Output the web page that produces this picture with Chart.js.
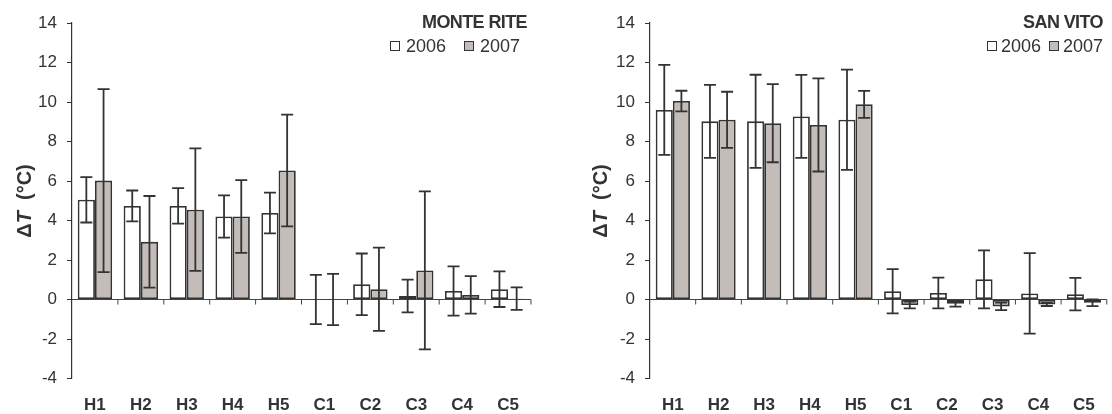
<!DOCTYPE html>
<html>
<head>
<meta charset="utf-8">
<script src="https://cdn.jsdelivr.net/npm/chart.js@4/dist/chart.umd.min.js"></script>
<style>
  body { margin: 0; background: #fff; font-family: 'Liberation Sans', Arial, sans-serif; color: #333; }
  #wrap { position: relative; width: 1112px; height: 414px; }
  .panel { position: absolute; top: 0; width: 556px; height: 414px; }
  .panel canvas { position: absolute; left: 0; top: 0; }
  .title { position: absolute; top: 12px; font-weight: bold; font-size: 18px; line-height: 20px; letter-spacing: -0.6px; white-space: nowrap; }
  .legend { position: absolute; top: 36px; font-size: 18px; line-height: 20px; white-space: nowrap; display: flex; align-items: center; }
  .legend .box { display: inline-block; width: 8px; height: 8px; border: 1.5px solid #333; margin-right: 6px; }
  .ytitle { position: absolute; width: 200px; height: 24px; line-height: 24px; text-align: center; font-weight: bold; font-size: 20px; transform: rotate(-90deg); white-space: nowrap; }
</style>
</head>
<body>
<div id="wrap">
  <div class="panel" style="left:0">
    <canvas id="chartMonte" width="556" height="414"></canvas>
    <div class="ytitle" style="left:-76px; top:189px">Δ<i>T</i>&nbsp; (°C)</div>
    <div class="title" style="right:29px">MONTE RITE</div>
    <div class="legend" style="right:36px">
      <span class="box" style="background:#fff"></span><span>2006</span>
      <span class="box" style="background:#c4bcb9; margin-left:18px"></span><span>2007</span>
    </div>
  </div>
  <div class="panel" style="left:556px">
    <canvas id="chartSanVito" width="556" height="414"></canvas>
    <div class="ytitle" style="left:-56px; top:189px">Δ<i>T</i>&nbsp; (°C)</div>
    <div class="title" style="right:9px">SAN VITO</div>
    <div class="legend" style="right:9px">
      <span class="box" style="background:#fff; margin-right:4px"></span><span>2006</span>
      <span class="box" style="background:#c4bcb9; margin-left:8px; margin-right:4px"></span><span>2007</span>
    </div>
  </div>
</div>
<script>
// categorie (siti)
var categories = ['H1', 'H2', 'H3', 'H4', 'H5', 'C1', 'C2', 'C3', 'C4', 'C5'];
var yTicks = { min: -4, max: 14, step: 2 };

// MONTE RITE
var monte2006 = [5.05, 4.74, 4.74, 4.20, 4.38, 0.00, 0.77, 0.18, 0.43, 0.52];
var monte2006Err = [1.15, 0.78, 0.90, 1.07, 1.03, 1.25, 1.56, 0.83, 1.25, 0.90];
var monte2007 = [6.02, 2.92, 4.55, 4.20, 6.53, 0.00, 0.52, 1.47, 0.23, 0.04];
var monte2007Err = [4.63, 2.32, 3.10, 1.84, 2.83, 1.30, 2.11, 4.00, 0.95, 0.57];

// SAN VITO
var sanVito2006 = [9.60, 9.02, 9.02, 9.27, 9.10, 0.42, 0.33, 1.02, 0.31, 0.27];
var sanVito2006Err = [2.28, 1.85, 2.36, 2.10, 2.54, 1.12, 0.78, 1.47, 2.04, 0.82];
var sanVito2007 = [10.05, 9.10, 8.93, 8.84, 9.88, -0.28, -0.21, -0.35, -0.25, -0.17];
var sanVito2007Err = [0.52, 1.42, 1.98, 2.36, 0.68, 0.17, 0.15, 0.19, 0.08, 0.17];

var FONT = "'Liberation Sans', Arial, sans-serif";
var INK = '#333';

// barre d'errore
var errorBars = {
    id: 'errorBars',
    afterDatasetsDraw(chart) {
        var ctx = chart.ctx;
        var yScale = chart.scales.y;
        ctx.save();
        ctx.strokeStyle = INK;
        ctx.lineWidth = 1.8;
        chart.data.datasets.forEach(function (ds, i) {
            var meta = chart.getDatasetMeta(i);
            meta.data.forEach(function (bar, j) {
                var v = ds.data[j];
                var e = ds.errors[j];
                var yTop = yScale.getPixelForValue(v + e);
                var yBot = yScale.getPixelForValue(v - e);
                ctx.beginPath();
                ctx.moveTo(bar.x, yTop);
                ctx.lineTo(bar.x, yBot);
                ctx.moveTo(bar.x - 6, yTop);
                ctx.lineTo(bar.x + 6, yTop);
                ctx.moveTo(bar.x - 6, yBot);
                ctx.lineTo(bar.x + 6, yBot);
                ctx.stroke();
            });
        });
        ctx.restore();
    }
};

// asse x sullo zero, con tacche tra le categorie
var zeroAxis = {
    id: 'zeroAxis',
    beforeDatasetsDraw(chart) {
        var ctx = chart.ctx;
        var area = chart.chartArea;
        var xScale = chart.scales.x;
        var y0 = chart.scales.y.getPixelForValue(0);
        ctx.save();
        ctx.strokeStyle = '#444';
        ctx.lineWidth = 1;
        ctx.beginPath();
        ctx.moveTo(area.left, y0);
        ctx.lineTo(area.right, y0);
        for (var i = 1; i <= categories.length; i++) {
            var x = i < categories.length
                ? (xScale.getPixelForValue(i - 1) + xScale.getPixelForValue(i)) / 2
                : area.right;
            ctx.moveTo(x, y0);
            ctx.lineTo(x, y0 + 5);
        }
        ctx.stroke();
        ctx.restore();
    }
};

function makeChart(id, d2006, e2006, d2007, e2007, axisWidth, padRight) {
    var ctx = document.getElementById(id);
    return new Chart(ctx, {
        type: 'bar',
        data: {
            labels: categories,
            datasets: [{
                label: '2006',
                data: d2006,
                errors: e2006,
                backgroundColor: '#ffffff',
                borderColor: INK,
                borderWidth: 1.8,
                borderSkipped: false
            }, {
                label: '2007',
                data: d2007,
                errors: e2007,
                backgroundColor: '#c4bcb9',
                borderColor: INK,
                borderWidth: 1.8,
                borderSkipped: false
            }]
        },
        options: {
            responsive: false,
            animation: false,
            categoryPercentage: 0.75,
            barPercentage: 1.0,
            layout: { padding: { top: 23, right: padRight, bottom: 0, left: 0 } },
            plugins: {
                legend: { display: false },
                tooltip: { enabled: false }
            },
            scales: {
                x: {
                    grid: { display: false, drawTicks: false },
                    border: { display: false },
                    ticks: { color: INK, padding: 17, font: { family: FONT, size: 17, weight: 'bold' } },
                    afterFit: function (scale) { scale.height = 35.5; }
                },
                y: {
                    min: yTicks.min,
                    max: yTicks.max,
                    ticks: { stepSize: yTicks.step, color: INK, padding: 10, font: { family: FONT, size: 17 } },
                    grid: { drawOnChartArea: false, drawTicks: true, tickLength: 5, color: '#333' },
                    border: { display: true, color: '#333', width: 1.2 },
                    afterFit: function (scale) { scale.width = axisWidth; }
                }
            }
        },
        plugins: [zeroAxis, errorBars]
    });
}

makeChart('chartMonte', monte2006, monte2006Err, monte2007, monte2007Err, 72, 25);
makeChart('chartSanVito', sanVito2006, sanVito2006Err, sanVito2007, sanVito2007Err, 94, 4);
</script>
</body>
</html>
